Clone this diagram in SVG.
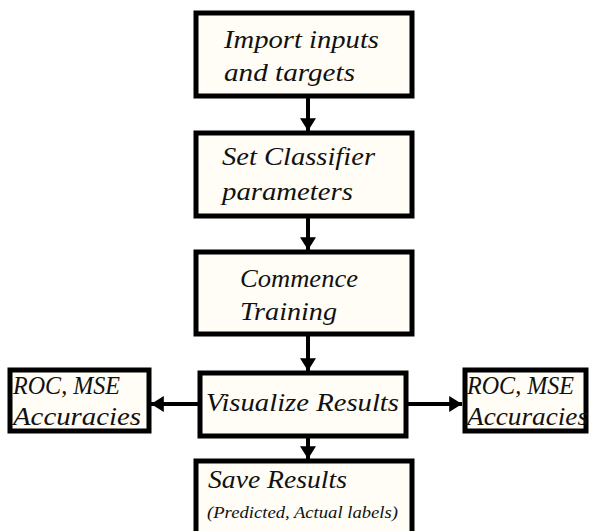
<svg xmlns="http://www.w3.org/2000/svg" width="591" height="531" viewBox="0 0 591 531">
<style>
.box{fill:#fffdf6;stroke:#000;stroke-width:5}
.t{font-family:"Liberation Serif","DejaVu Serif",serif;font-style:italic;font-size:25px;fill:#111}
.s{font-size:16px}
.c{stroke:#000;stroke-width:4;fill:none}
</style>
<defs>
<marker id="ah" markerWidth="4" markerHeight="4" refX="3.2" refY="2" orient="auto" markerUnits="strokeWidth">
<path d="M0,0 L3.2,2 L0,4 Z" fill="#000"/>
</marker>
</defs>
<rect width="591" height="531" fill="#fff"/>
<g id="connectors">
<line class="c" x1="308" y1="98" x2="308" y2="131" marker-end="url(#ah)"/>
<line class="c" x1="308" y1="218" x2="308" y2="250" marker-end="url(#ah)"/>
<line class="c" x1="308" y1="336" x2="308" y2="371" marker-end="url(#ah)"/>
<line class="c" x1="198" y1="404" x2="151" y2="404" marker-end="url(#ah)"/>
<line class="c" x1="408" y1="404" x2="462" y2="404" marker-end="url(#ah)"/>
<line class="c" x1="308" y1="438" x2="308" y2="459" marker-end="url(#ah)"/>
</g>
<g id="import">
<rect class="box" x="196" y="13" width="216" height="83"/>
<text class="t" x="224" y="48" textLength="155" lengthAdjust="spacingAndGlyphs">Import inputs</text>
<text class="t" x="224" y="81" textLength="131" lengthAdjust="spacingAndGlyphs">and targets</text>
</g>
<g id="classifier">
<rect class="box" x="196" y="133" width="216" height="83"/>
<text class="t" x="222" y="165" textLength="153" lengthAdjust="spacingAndGlyphs">Set Classifier</text>
<text class="t" x="222" y="200" textLength="131" lengthAdjust="spacingAndGlyphs">parameters</text>
</g>
<g id="training">
<rect class="box" x="196" y="252" width="216" height="82"/>
<text class="t" x="240" y="287" textLength="118" lengthAdjust="spacingAndGlyphs">Commence</text>
<text class="t" x="240" y="320" textLength="97" lengthAdjust="spacingAndGlyphs">Training</text>
</g>
<g id="visualize">
<rect class="box" x="200" y="373" width="206" height="63"/>
<text class="t" x="206" y="411" textLength="193" lengthAdjust="spacingAndGlyphs">Visualize Results</text>
</g>
<g id="roc-left">
<rect class="box" x="10" y="370" width="139" height="61"/>
<text class="t" x="13" y="394" textLength="107" lengthAdjust="spacingAndGlyphs">ROC, MSE</text>
<text class="t" x="13" y="425" textLength="128" lengthAdjust="spacingAndGlyphs">Accuracies</text>
</g>
<g id="roc-right">
<rect class="box" x="465" y="370" width="121" height="61"/>
<text class="t" x="467" y="394" textLength="107" lengthAdjust="spacingAndGlyphs">ROC, MSE</text>
<text class="t" x="467" y="425" textLength="121" lengthAdjust="spacingAndGlyphs">Accuracies</text>
</g>
<g id="save">
<rect class="box" x="196" y="461" width="216" height="80"/>
<text class="t" x="208" y="488" textLength="139" lengthAdjust="spacingAndGlyphs">Save Results</text>
<text class="t s" x="207" y="518" textLength="191" lengthAdjust="spacingAndGlyphs">(Predicted, Actual labels)</text>
</g>
</svg>
